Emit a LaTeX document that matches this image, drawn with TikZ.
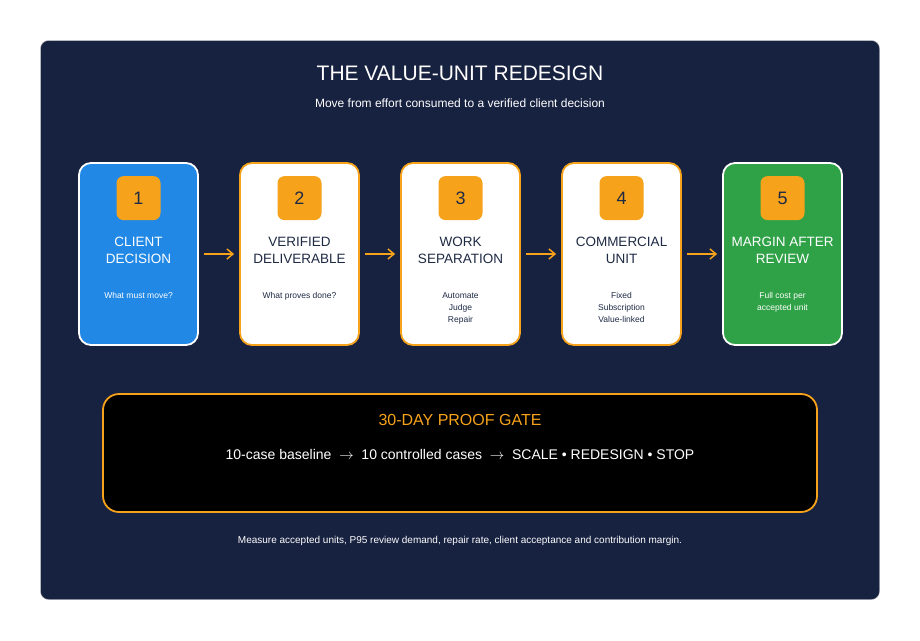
\documentclass[tikz,border=0pt]{standalone}
\usepackage{fontspec}
\setmainfont{Liberation Sans}
\usetikzlibrary{arrows.meta,positioning,calc}
\definecolor{panelnavy}{HTML}{172140}
\definecolor{gateorange}{HTML}{F7A21B}
\definecolor{stepblue}{HTML}{2188E6}
\definecolor{stepgreen}{HTML}{2FA147}
\definecolor{inknavy}{HTML}{1E2A44}

\begin{document}
\begin{tikzpicture}[
    x=1pt, y=-1pt,
    card/.style={rectangle, draw=gateorange, line width=1.8pt, fill=white, rounded corners=12pt, minimum width=119pt, minimum height=182pt},
    badge/.style={rectangle, fill=gateorange, rounded corners=7pt, minimum width=44pt, minimum height=44pt, font=\fontsize{18}{18}\selectfont, text=inknavy},
    heading/.style={align=center, font=\fontsize{13.5}{17}\selectfont, text=inknavy},
    note/.style={align=center, font=\fontsize{8.5}{12}\selectfont, text=inknavy},
    flow/.style={-{Straight Barb[length=6pt,width=10pt]}, gateorange, line width=1.5pt, shorten <=5pt, shorten >=5pt}
]
    \useasboundingbox (0,0) rectangle (920,640);
    \fill[white] (0,0) rectangle (920,640);
    \draw[gray!40, fill=panelnavy, rounded corners=8pt] (40.5,40.5) rectangle (879.5,599.5);

    \node[font=\fontsize{21}{21}\selectfont, text=white] (title) at (460,73) {THE VALUE-UNIT REDESIGN};
    \node[font=\fontsize{12}{12}\selectfont, text=white] (subtitle) at (460,103) {Move from effort consumed to a verified client decision};

    % steps
    \node[card, draw=white, fill=stepblue] (c1) at (138.5,254) {};
    \node[card] (c2) at (299.5,254) {};
    \node[card] (c3) at (460.5,254) {};
    \node[card] (c4) at (621.5,254) {};
    \node[card, draw=white, fill=stepgreen] (c5) at (782.5,254) {};

    \foreach \i in {1,...,5}
        \node[badge] (b\i) at ($(c\i.north)+(0,36)$) {\i};

    \node[heading, text=white] (h1) at ($(c1.north)+(0,88)$) {CLIENT\\DECISION};
    \node[heading] (h2) at ($(c2.north)+(0,88)$) {VERIFIED\\DELIVERABLE};
    \node[heading] (h3) at ($(c3.north)+(0,88)$) {WORK\\SEPARATION};
    \node[heading] (h4) at ($(c4.north)+(0,88)$) {COMMERCIAL\\UNIT};
    \node[heading, text=white] (h5) at ($(c5.north)+(0,88)$) {MARGIN AFTER\\REVIEW};

    \node[note, text=white, anchor=north] (n1) at ($(c1.north)+(0,127)$) {What must move?};
    \node[note, anchor=north] (n2) at ($(c2.north)+(0,127)$) {What proves done?};
    \node[note, anchor=north] (n3) at ($(c3.north)+(0,127)$) {Automate\\Judge\\Repair};
    \node[note, anchor=north] (n4) at ($(c4.north)+(0,127)$) {Fixed\\Subscription\\Value-linked};
    \node[note, text=white, anchor=north] (n5) at ($(c5.north)+(0,127)$) {Full cost per\\accepted unit};

    \foreach \a/\b in {c1/c2,c2/c3,c3/c4,c4/c5}
        \draw[flow] (\a.east) -- (\b.west);

    % proof gate
    \node[rectangle, draw=gateorange, line width=1.8pt, fill=black, rounded corners=16pt, minimum width=714pt, minimum height=118pt] (gate) at (460,453) {};
    \node[font=\fontsize{16}{16}\selectfont, text=gateorange] (gatetitle) at (460,420) {30-DAY PROOF GATE};
    \node[font=\fontsize{14}{14}\selectfont, text=white] (gateline) at (460,454) {10-case baseline \ $\rightarrow$ \ 10 controlled cases \ $\rightarrow$ \ SCALE • REDESIGN • STOP};

    \node[font=\fontsize{10}{10}\selectfont, text=white] (footer) at (460,541) {Measure accepted units, P95 review demand, repair rate, client acceptance and contribution margin.};
\end{tikzpicture}
\end{document}
